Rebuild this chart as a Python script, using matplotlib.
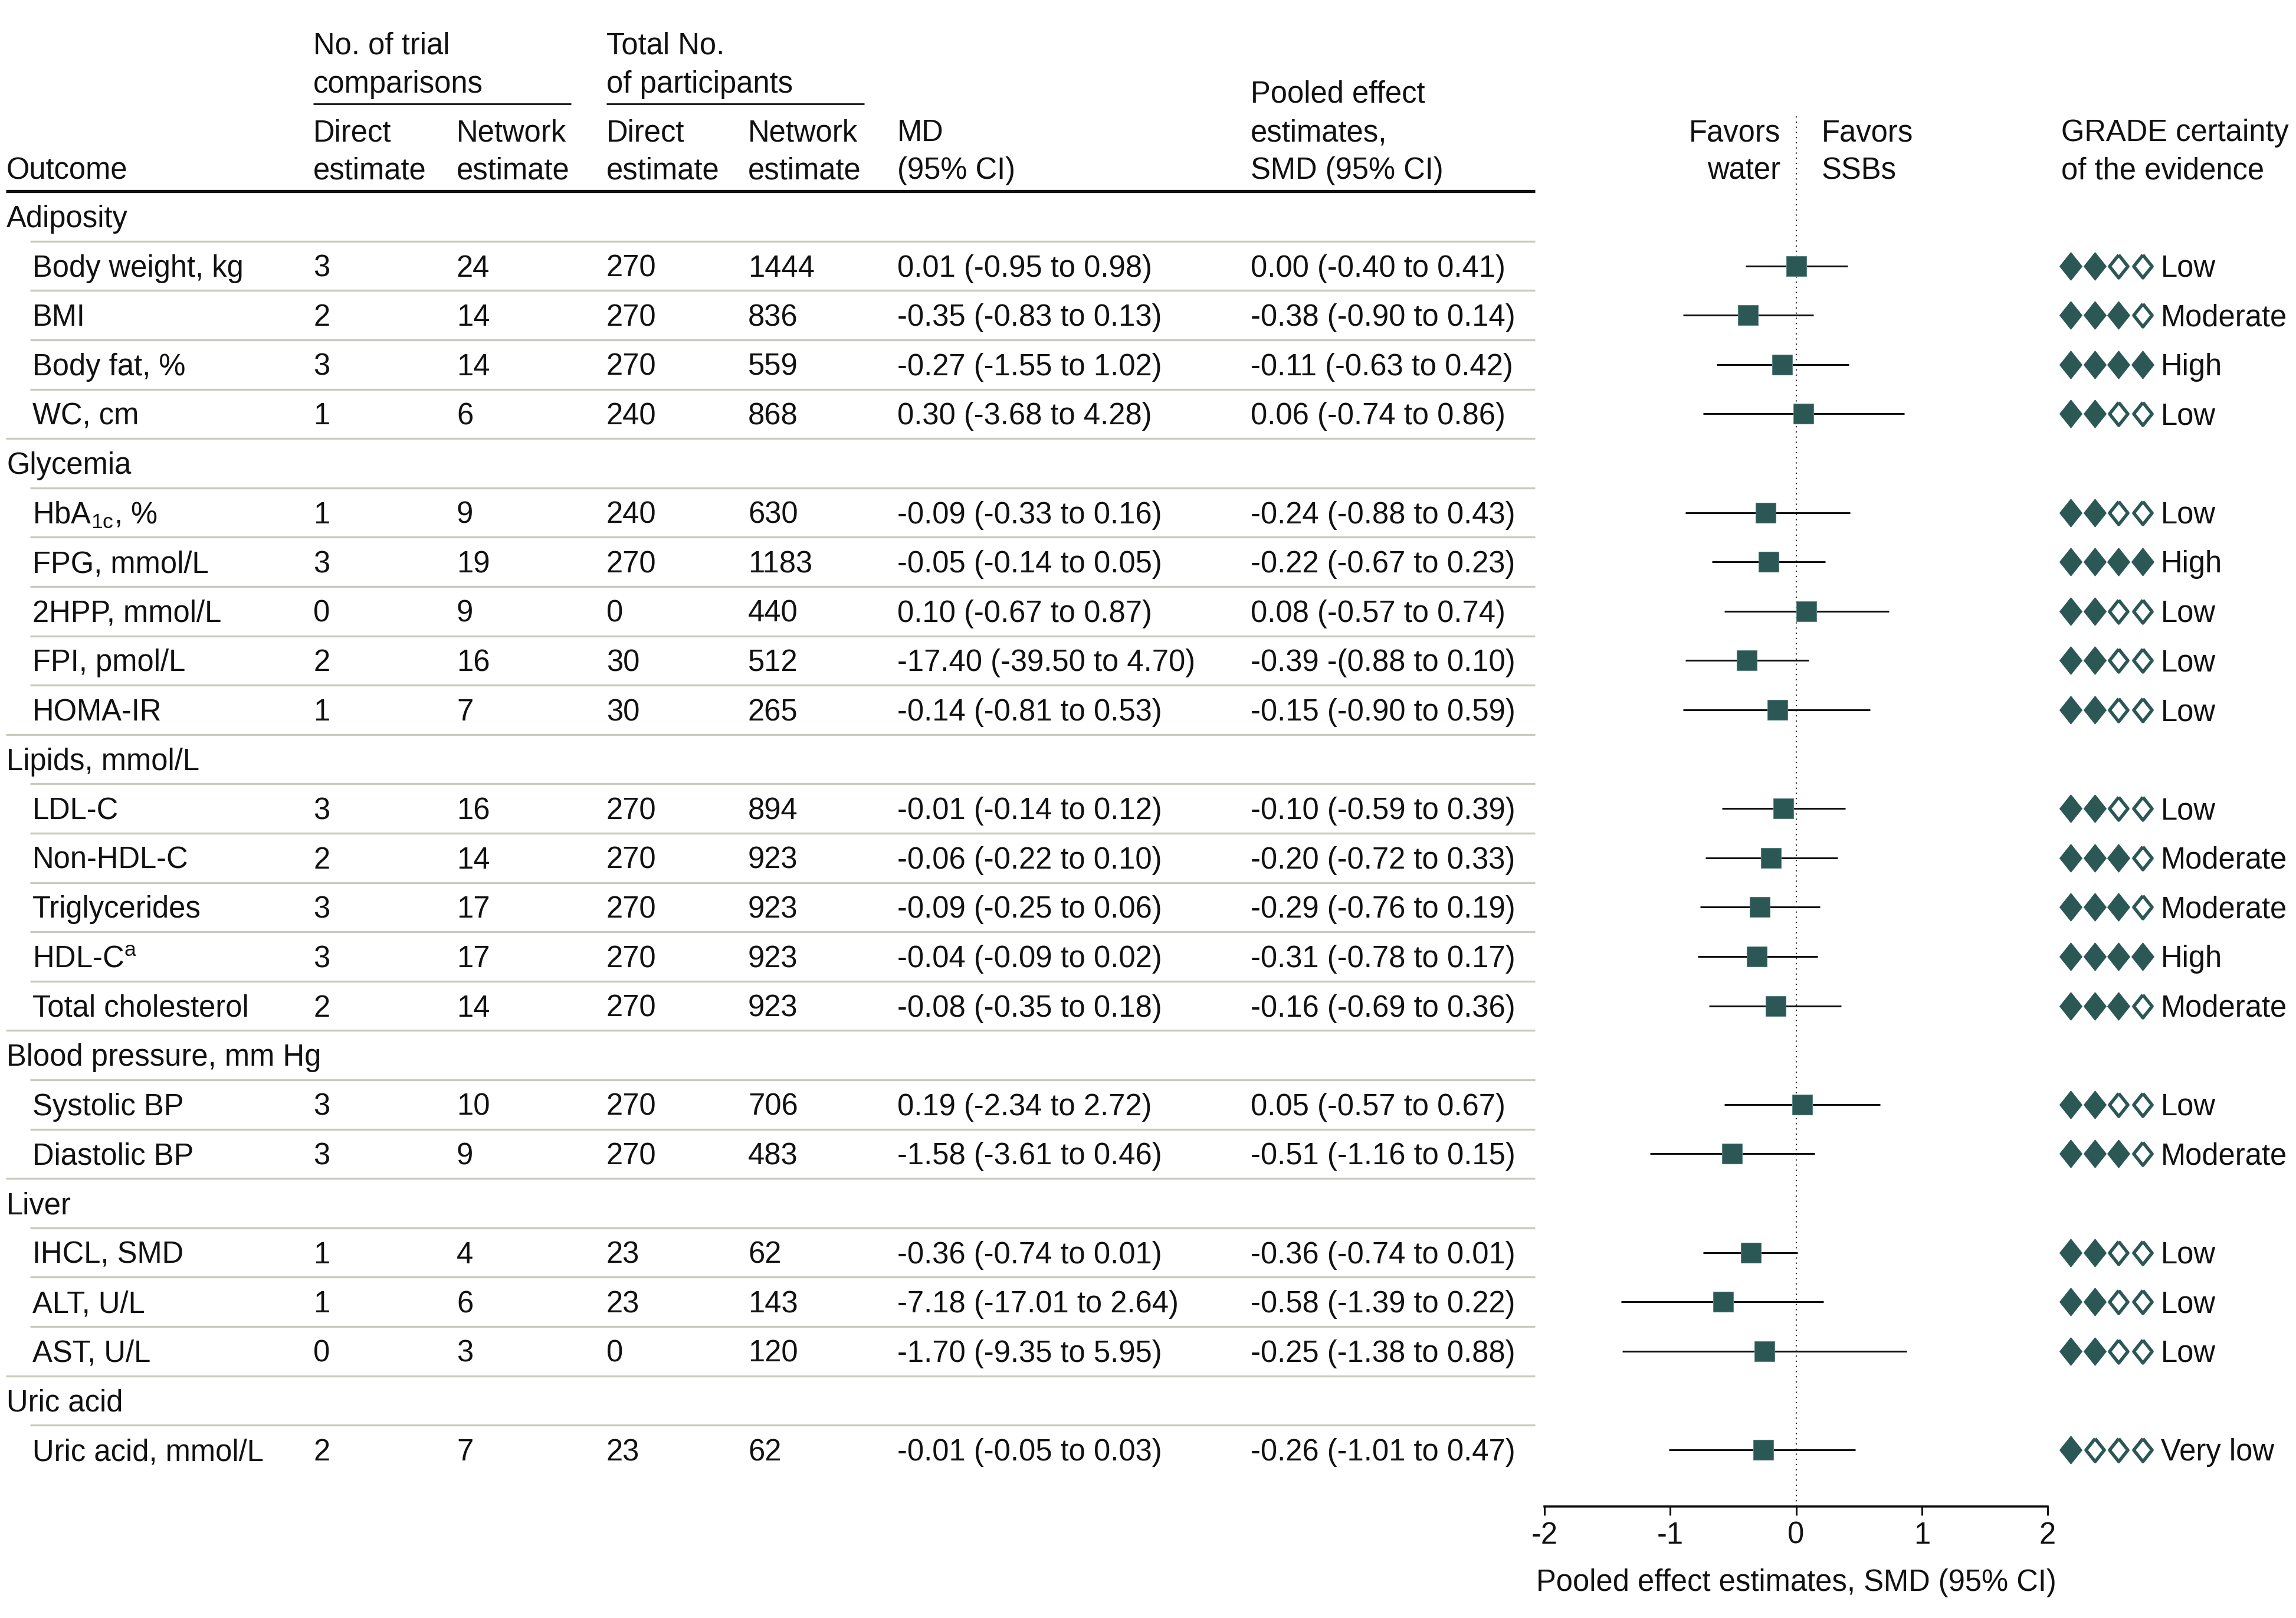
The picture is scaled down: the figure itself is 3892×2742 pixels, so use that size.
import matplotlib
matplotlib.use("Agg")
import matplotlib.pyplot as plt

# ---------------- data ----------------
groups = ["Adiposity", "Glycemia", "Lipids, mmol/L", "Blood pressure, mm Hg", "Liver", "Uric acid"]
group_sizes = [4, 5, 5, 2, 3, 1]

outcomes = ["Body weight, kg", "BMI", "Body fat, %", "WC, cm",
            r"HbA$_{\mathrm{1c}}$, %", "FPG, mmol/L", "2HPP, mmol/L", "FPI, pmol/L", "HOMA-IR",
            "LDL-C", "Non-HDL-C", "Triglycerides", r"HDL-C$^{\mathrm{a}}$", "Total cholesterol",
            "Systolic BP", "Diastolic BP",
            "IHCL, SMD", "ALT, U/L", "AST, U/L",
            "Uric acid, mmol/L"]

trials_direct = [3, 2, 3, 1, 1, 3, 0, 2, 1, 3, 2, 3, 3, 2, 3, 3, 1, 1, 0, 2]
trials_network = [24, 14, 14, 6, 9, 19, 9, 16, 7, 16, 14, 17, 17, 14, 10, 9, 4, 6, 3, 7]
participants_direct = [270, 270, 270, 240, 240, 270, 0, 30, 30, 270, 270, 270, 270, 270, 270, 270, 23, 23, 0, 23]
participants_network = [1444, 836, 559, 868, 630, 1183, 440, 512, 265, 894, 923, 923, 923, 923, 706, 483, 62, 143, 120, 62]

md_text = ["0.01 (-0.95 to 0.98)", "-0.35 (-0.83 to 0.13)", "-0.27 (-1.55 to 1.02)", "0.30 (-3.68 to 4.28)",
           "-0.09 (-0.33 to 0.16)", "-0.05 (-0.14 to 0.05)", "0.10 (-0.67 to 0.87)", "-17.40 (-39.50 to 4.70)",
           "-0.14 (-0.81 to 0.53)", "-0.01 (-0.14 to 0.12)", "-0.06 (-0.22 to 0.10)", "-0.09 (-0.25 to 0.06)",
           "-0.04 (-0.09 to 0.02)", "-0.08 (-0.35 to 0.18)", "0.19 (-2.34 to 2.72)", "-1.58 (-3.61 to 0.46)",
           "-0.36 (-0.74 to 0.01)", "-7.18 (-17.01 to 2.64)", "-1.70 (-9.35 to 5.95)", "-0.01 (-0.05 to 0.03)"]

smd_text = ["0.00 (-0.40 to 0.41)", "-0.38 (-0.90 to 0.14)", "-0.11 (-0.63 to 0.42)", "0.06 (-0.74 to 0.86)",
            "-0.24 (-0.88 to 0.43)", "-0.22 (-0.67 to 0.23)", "0.08 (-0.57 to 0.74)", "-0.39 -(0.88 to 0.10)",
            "-0.15 (-0.90 to 0.59)", "-0.10 (-0.59 to 0.39)", "-0.20 (-0.72 to 0.33)", "-0.29 (-0.76 to 0.19)",
            "-0.31 (-0.78 to 0.17)", "-0.16 (-0.69 to 0.36)", "0.05 (-0.57 to 0.67)", "-0.51 (-1.16 to 0.15)",
            "-0.36 (-0.74 to 0.01)", "-0.58 (-1.39 to 0.22)", "-0.25 (-1.38 to 0.88)", "-0.26 (-1.01 to 0.47)"]

smd_est = [0.00, -0.38, -0.11, 0.06, -0.24, -0.22, 0.08, -0.39, -0.15, -0.10, -0.20, -0.29, -0.31, -0.16,
           0.05, -0.51, -0.36, -0.58, -0.25, -0.26]
smd_lo = [-0.40, -0.90, -0.63, -0.74, -0.88, -0.67, -0.57, -0.88, -0.90, -0.59, -0.72, -0.76, -0.78, -0.69,
          -0.57, -1.16, -0.74, -1.39, -1.38, -1.01]
smd_hi = [0.41, 0.14, 0.42, 0.86, 0.43, 0.23, 0.74, 0.10, 0.59, 0.39, 0.33, 0.19, 0.17, 0.36,
          0.67, 0.15, 0.01, 0.22, 0.88, 0.47]

grade = ["Low", "Moderate", "High", "Low", "Low", "High", "Low", "Low", "Low", "Low", "Moderate", "Moderate",
         "High", "Moderate", "Low", "Moderate", "Low", "Low", "Low", "Very low"]
grade_levels = {"Very low": 1, "Low": 2, "Moderate": 3, "High": 4}

x_ticks = [-2, -1, 0, 1, 2]

# ---------------- style ----------------
W, H, DPI = 3892, 2742, 100
plt.rcParams["font.family"] = ["Liberation Sans", "DejaVu Sans"]
plt.rcParams["mathtext.fontset"] = "custom"
plt.rcParams["mathtext.rm"] = "Liberation Sans"
plt.rcParams["mathtext.it"] = "Liberation Sans:italic"
plt.rcParams["mathtext.bf"] = "Liberation Sans:bold"
plt.rcParams["axes.unicode_minus"] = False

FS = 36.5
TXT = "#111111"
TEAL = "#2b5755"
SEP = "#c8cbbd"

Y0, PITCH = 367.0, 83.6     # pixel y of first row, row pitch
BASE = 18                    # baseline offset from visual center
X_CAT, X_SUB = 11, 55
COLS = [531, 774, 1028, 1268, 1521, 2120]
X_END = 2602
FOREST_L, FOREST_R = 2618, 3471
FOREST_TOP, FOREST_BOT = 195, 2553
GRADE_X0, GRADE_DX, GRADE_TX = 3510, 40.7, 3663

fig = plt.figure(figsize=(W / DPI, H / DPI), dpi=DPI)
ax = fig.add_axes([0, 0, 1, 1])
ax.set_xlim(0, W)
ax.set_ylim(H, 0)
ax.axis("off")


def put(x, yc, s, ha="left"):
    ax.text(x, yc + BASE, s, fontsize=FS, color=TXT, ha=ha, va="baseline")


# ---------------- header ----------------
put(COLS[0], 74, "No. of trial")
put(COLS[0], 139, "comparisons")
put(COLS[2], 74, "Total No.")
put(COLS[2], 139, "of participants")
ax.plot([COLS[0], 968], [176, 176], color="#222222", lw=2.2, solid_capstyle="butt")
ax.plot([COLS[2], 1465], [176, 176], color="#222222", lw=2.2, solid_capstyle="butt")
for cx, t in zip(COLS[:4], ["Direct", "Network", "Direct", "Network"]):
    put(cx, 221, t)
    put(cx, 285, "estimate")
put(COLS[4], 221, "MD")
put(COLS[4], 285, "(95% CI)")
put(COLS[5], 156, "Pooled effect")
put(COLS[5], 221, "estimates,")
put(COLS[5], 285, "SMD (95% CI)")
put(X_CAT, 285, "Outcome")
put(3018, 221, "Favors", ha="right")
put(3018, 285, "water", ha="right")
put(3088, 221, "Favors")
put(3088, 285, "SSBs")
put(3494, 221, "GRADE certainty")
put(3494, 285, "of the evidence")
ax.plot([10, X_END], [324, 324], color="#111111", lw=3.8, solid_capstyle="butt")

# ---------------- table body ----------------
diamond = [(0, 0.5), (0.4, 0), (0, -0.5), (-0.4, 0), (0, 0.5)]
row = 0
oi = 0
sub_rows = []
for g, n in zip(groups, group_sizes):
    yc = Y0 + row * PITCH
    if row > 0:
        ax.plot([10, X_END], [yc - PITCH / 2] * 2, color=SEP, lw=2.4, solid_capstyle="butt")
    put(X_CAT, yc, g)
    row += 1
    for _ in range(n):
        yc = Y0 + row * PITCH
        ax.plot([51, X_END], [yc - PITCH / 2] * 2, color=SEP, lw=2.4, solid_capstyle="butt")
        put(X_SUB, yc, outcomes[oi])
        vals = [str(trials_direct[oi]), str(trials_network[oi]), str(participants_direct[oi]),
                str(participants_network[oi]), md_text[oi], smd_text[oi]]
        for cx, v in zip(COLS, vals):
            put(cx, yc, v)
        lvl = grade_levels[grade[oi]]
        for k in range(4):
            dx = GRADE_X0 + k * GRADE_DX
            if k < lvl:
                ax.plot(dx, yc, marker=diamond, markersize=34, mfc=TEAL, mec=TEAL, mew=0.8, ls="none")
            else:
                ax.plot(dx, yc, marker=diamond, markersize=28, mfc="white", mec=TEAL, mew=4.0, ls="none")
        put(GRADE_TX, yc, grade[oi])
        sub_rows.append(row)
        oi += 1
        row += 1

# ---------------- forest plot ----------------
fx = FOREST_L / W
fw = (FOREST_R - FOREST_L) / W
fb = (H - FOREST_BOT) / H
fh = (FOREST_BOT - FOREST_TOP) / H
axf = fig.add_axes([fx, fb, fw, fh])
axf.set_facecolor("none")
axf.set_xlim(x_ticks[0], x_ticks[-1])
axf.set_ylim((FOREST_BOT - Y0) / PITCH, (FOREST_TOP - Y0) / PITCH)
for s in ["left", "right", "top"]:
    axf.spines[s].set_visible(False)
axf.spines["bottom"].set_linewidth(2.6)
axf.spines["bottom"].set_color("#111111")
axf.axvline(0, color="#222222", lw=1.5, linestyle=(0, (1, 3.2)), zorder=1)
axf.hlines(sub_rows, smd_lo, smd_hi, color="#111111", lw=2.2, zorder=2)
axf.plot(smd_est, sub_rows, ls="none", marker="s", markersize=24, mfc=TEAL, mec="#5d8583", mew=0.8, zorder=3)
axf.set_yticks([])
axf.set_xticks(x_ticks)
axf.set_xticklabels([str(t) for t in x_ticks])
axf.tick_params(axis="x", length=11, width=2.2, color="#111111", pad=7, labelsize=FS, labelcolor=TXT)
axf.set_xlabel("Pooled effect estimates, SMD (95% CI)", fontsize=FS, color=TXT, labelpad=22)

fig.savefig("out.png", dpi=DPI)
